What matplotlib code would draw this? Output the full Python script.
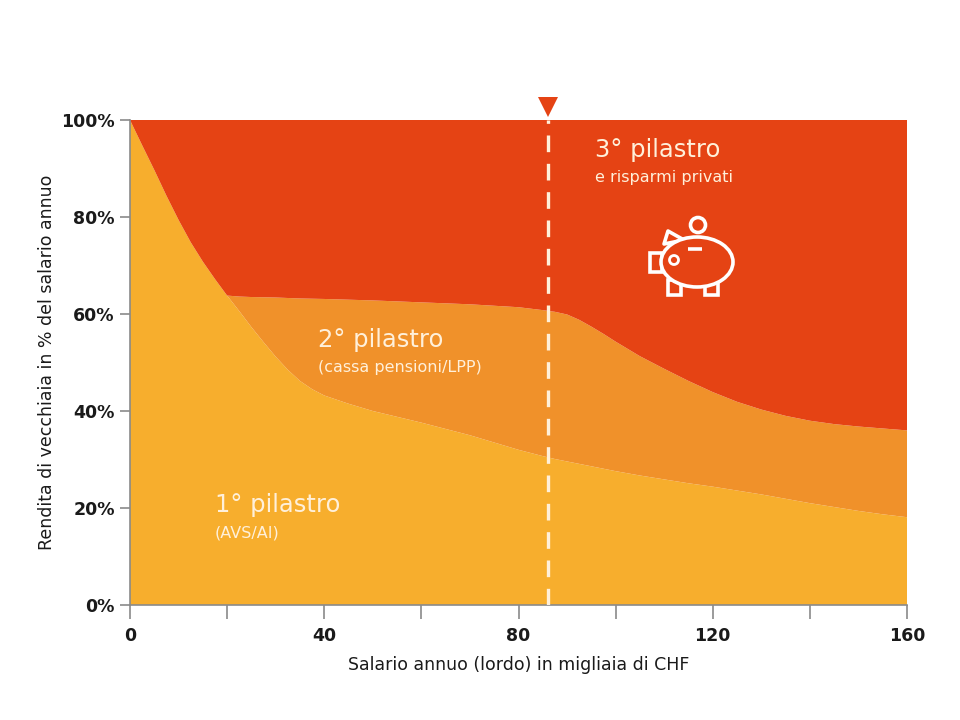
import matplotlib
matplotlib.use("Agg")
import matplotlib.pyplot as plt
from matplotlib.patches import Ellipse, Circle, Rectangle, Polygon

# ---- data ----
salary = [0, 2.5, 5, 7.5, 10, 12.5, 15, 17.5, 20, 22.5, 25, 27.5, 30, 32.5, 35, 37.5,
          40, 45, 50, 55, 60, 65, 70, 75, 80, 85, 87.5, 90, 92.5, 95, 97.5, 100, 105, 110, 115, 120,
          125, 130, 135, 140, 145, 150, 155, 160]
pillar1 = [100, 94.8, 89.7, 84.4, 79.4, 74.8, 70.8, 67.2, 63.8, 60.6, 57.3, 54.2, 51.2, 48.5, 46.2, 44.5,
           43.2, 41.5, 40, 38.8, 37.6, 36.3, 35, 33.5, 32, 30.7, 30.1, 29.6, 29.1, 28.6, 28.1, 27.6, 26.7,
           25.9, 25.1, 24.4, 23.6, 22.8, 21.9, 21, 20.2, 19.4, 18.7, 18.1]
pillar12_total = [100, 94.8, 89.7, 84.4, 79.4, 74.8, 70.8, 67.2, 63.8, 63.6, 63.5, 63.45, 63.4, 63.3, 63.2, 63.15,
                  63.1, 62.95, 62.8, 62.6, 62.4, 62.2, 62, 61.7, 61.4, 60.8, 60.45, 59.9, 58.8, 57.4, 55.9,
                  54.3, 51.3, 48.7, 46.2, 43.9, 41.9, 40.3, 39, 38, 37.3, 36.8, 36.4, 36]
pillar2 = [t - p for t, p in zip(pillar12_total, pillar1)]
pillar3 = [100 - t for t in pillar12_total]

highlight_salary = 86
x_ticks = [0, 40, 80, 120, 160]
x_minor = [20, 60, 100, 140]
y_ticks = [0, 20, 40, 60, 80, 100]
y_ticklabels = ["0%", "20%", "40%", "60%", "80%", "100%"]

labels = [("1° pilastro", "(AVS/AI)"),
          ("2° pilastro", "(cassa pensioni/LPP)"),
          ("3° pilastro", "e risparmi privati")]

# ---- style ----
C_YELLOW = "#F7AE2D"
C_ORANGE = "#F0912A"
C_RED = "#E54314"
C_TEXT = "#FFF0DA"
plt.rcParams["font.family"] = ["DejaVu Sans"]

fig = plt.figure(figsize=(9.6, 7.2), dpi=100)
ax = fig.add_axes([130 / 960, 1 - 605 / 720, 777 / 960, 485 / 720])

ax.stackplot(salary, pillar1, pillar2, pillar3,
             colors=[C_YELLOW, C_ORANGE, C_RED], linewidth=0, antialiased=True)

ax.set_xlim(0, 160)
ax.set_ylim(0, 100)
ax.set_xticks(x_ticks)
ax.set_xticks(x_minor, minor=True)
ax.set_yticks(y_ticks)
ax.set_yticklabels(y_ticklabels)
for s in ["top", "right"]:
    ax.spines[s].set_visible(False)
for s in ["left", "bottom"]:
    ax.spines[s].set_color("#8a8a8a")
    ax.spines[s].set_linewidth(1.2)
ax.tick_params(axis="x", which="both", length=10, width=1.2, color="#8a8a8a",
               labelsize=12.5, pad=6)
ax.tick_params(axis="y", length=7, width=1.2, color="#8a8a8a", labelsize=12.5, pad=4)
for t in ax.get_xticklabels() + ax.get_yticklabels():
    t.set_fontweight("bold")
    t.set_color("#1a1a1a")

ax.set_xlabel("Salario annuo (lordo) in migliaia di CHF", fontsize=12.5,
              color="#1a1a1a", labelpad=8)
ax.set_ylabel("Rendita di vecchiaia in % del salario annuo", fontsize=12.5,
              color="#1a1a1a", labelpad=4)

# highlight line + marker
ax.axvline(highlight_salary, color=C_TEXT, lw=2.4, dashes=(5, 3.5), zorder=3)
ax.plot([highlight_salary], [102.6], marker="v", markersize=14, color=C_RED,
        clip_on=False, zorder=5, markeredgewidth=0)

# labels
label_pos = [(17.5, 20.6), (38.7, 54.6), (95.8, 93.8)]
for (title, sub), (lx, ly) in zip(labels, label_pos):
    ax.text(lx, ly, title, fontsize=17.5, color=C_TEXT, ha="left", va="center")
    ax.text(lx, ly - 5.7, sub, fontsize=11.5, color=C_TEXT, ha="left", va="center")

# piggy bank icon (decorative)
iax = fig.add_axes([640 / 960, 1 - 305 / 720, 105 / 960, 95 / 720])
iax.set_xlim(640, 745)
iax.set_ylim(305, 210)
iax.set_aspect("equal")
iax.axis("off")
lw = 2.6
for lx0 in (668, 705):
    iax.add_patch(Rectangle((lx0, 280), 13, 15, fill=False, ec="white", lw=lw, zorder=1))
iax.add_patch(Rectangle((650, 253), 12, 19, fill=False, ec="white", lw=lw, zorder=1))
iax.add_patch(Polygon([(664, 244), (668, 231), (684, 240)], closed=True,
                      fill=False, ec="white", lw=lw, zorder=1, joinstyle="round"))
iax.add_patch(Ellipse((697, 262), 72, 50, fc=C_RED, ec="white", lw=lw, zorder=2))
iax.add_patch(Circle((698, 225), 7.5, fill=False, ec="white", lw=lw, zorder=3))
iax.plot([688, 702], [249, 249], color="white", lw=lw, solid_capstyle="butt", zorder=3)
iax.add_patch(Circle((674, 260), 4.5, fill=False, ec="white", lw=2.0, zorder=3))

fig.savefig("out.png", dpi=100, facecolor="white")
